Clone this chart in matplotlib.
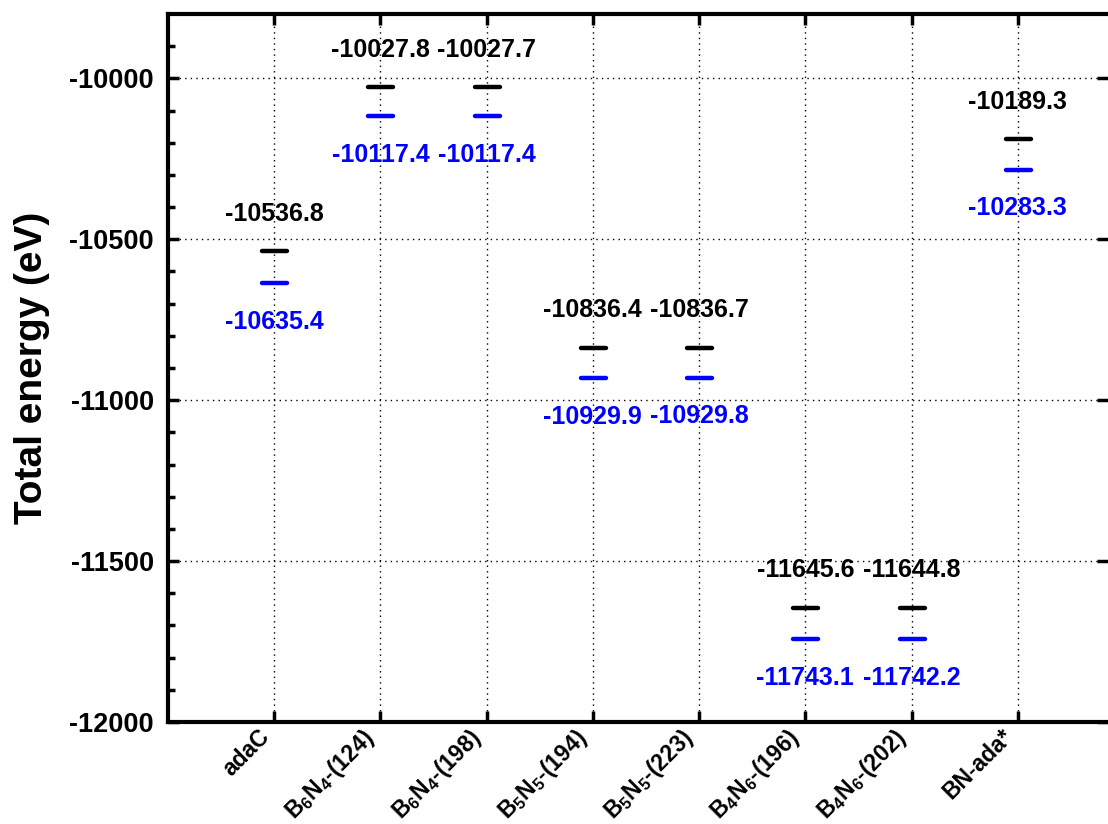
import matplotlib
matplotlib.use("Agg")
import matplotlib.pyplot as plt
from matplotlib.markers import MarkerStyle

plt.rcParams['font.family'] = ['Liberation Sans', 'DejaVu Sans']
plt.rcParams['font.weight'] = 'bold'
plt.rcParams['axes.unicode_minus'] = False
plt.rcParams['mathtext.fontset'] = 'custom'
plt.rcParams['mathtext.bf'] = 'Liberation Sans:bold'
plt.rcParams['mathtext.rm'] = 'Liberation Sans:bold'
plt.rcParams['mathtext.default'] = 'bf'

# structures and total energies (eV)
categories = ['adaC', 'B$_6$N$_4$-(124)', 'B$_6$N$_4$-(198)', 'B$_5$N$_5$-(194)',
              'B$_5$N$_5$-(223)', 'B$_4$N$_6$-(196)', 'B$_4$N$_6$-(202)', 'BN-ada*']
e_black = [-10536.8, -10027.8, -10027.7, -10836.4, -10836.7, -11645.6, -11644.8, -10189.3]
e_blue = [-10635.4, -10117.4, -10117.4, -10929.9, -10929.8, -11743.1, -11742.2, -10283.3]

fig = plt.figure(figsize=(11.08, 8.24), dpi=100)
ax = fig.add_axes([168 / 1108, 1 - 722 / 824, 1 - 168 / 1108, (722 - 14) / 824])

x = list(range(1, len(categories) + 1))
bar = MarkerStyle('_', capstyle='round')
ax.plot(x, e_black, ls='none', marker=bar, ms=18, mew=3.2, color='black', zorder=3)
ax.plot(x, e_blue, ls='none', marker=bar, ms=18, mew=3.2, color='#0000ff', zorder=3)

for xi, yb, yl in zip(x, e_black, e_blue):
    ax.annotate(f'{yb:.1f}', (xi, yb), xytext=(0, 27), textcoords='offset points',
                ha='center', va='center', fontsize=18, fontweight='bold', color='black')
    ax.annotate(f'{yl:.1f}', (xi, yl), xytext=(0, -28), textcoords='offset points',
                ha='center', va='center', fontsize=18, fontweight='bold', color='#0000ff')

ax.set_xlim(0, 8.85)
ax.set_ylim(-12000, -9800)
ax.set_xticks(x)
ax.set_xticklabels(categories, rotation=45, ha='right', va='top',
                   fontsize=16.5, fontweight='bold')
ax.set_yticks([-12000, -11500, -11000, -10500, -10000])
ax.set_yticks(range(-11900, -9800, 100), minor=True)
for lab in ax.get_yticklabels():
    lab.set_fontsize(19.5)
    lab.set_fontweight('bold')
ax.set_ylabel('Total energy (eV)', fontsize=28, fontweight='bold', labelpad=14)

ax.grid(True, which='major', ls=(0, (1, 3)), lw=1.0, color='black')
ax.tick_params(axis='both', which='major', direction='in', length=8, width=2.5,
               top=True, right=True)
ax.tick_params(axis='y', which='major', pad=10)
ax.tick_params(axis='y', which='minor', direction='in', length=5, width=2.5, right=False)
ax.tick_params(axis='x', which='major', pad=2)
for side in ['left', 'bottom', 'top']:
    ax.spines[side].set_linewidth(3)
ax.spines['right'].set_visible(False)

fig.savefig('out.png', dpi=100)
